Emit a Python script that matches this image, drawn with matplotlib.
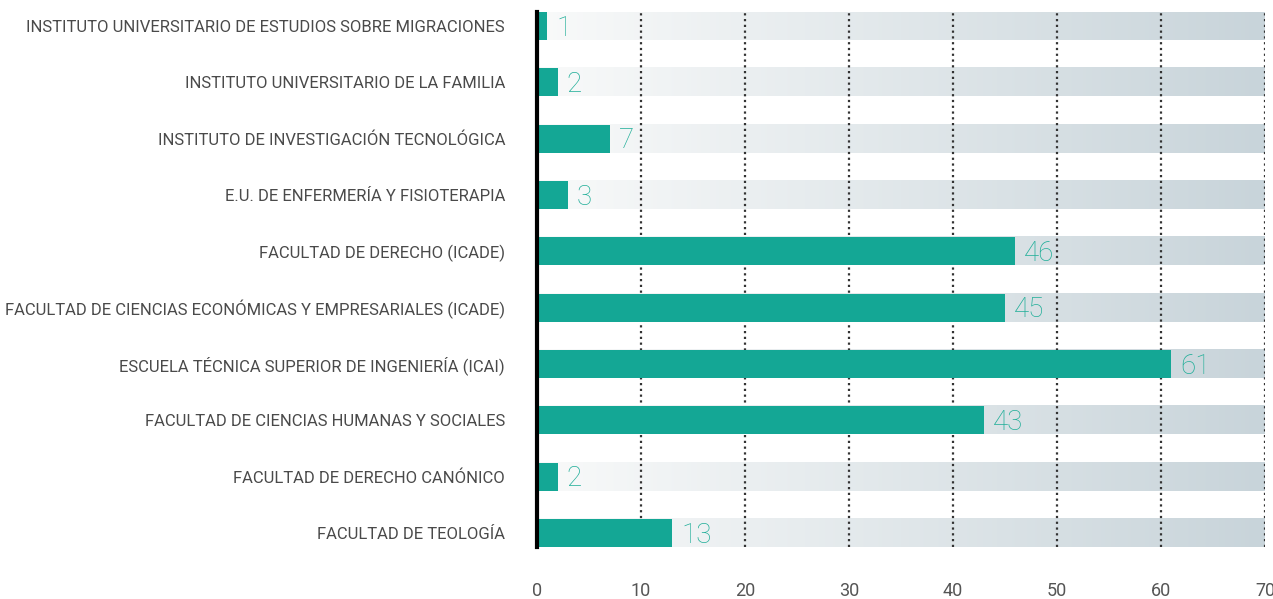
import numpy as np
import matplotlib.pyplot as plt
from matplotlib.colors import LinearSegmentedColormap

# data
categories = [
    "INSTITUTO UNIVERSITARIO DE ESTUDIOS SOBRE MIGRACIONES",
    "INSTITUTO UNIVERSITARIO DE LA FAMILIA",
    "INSTITUTO DE INVESTIGACIÓN TECNOLÓGICA",
    "E.U. DE ENFERMERÍA Y FISIOTERAPIA",
    "FACULTAD DE DERECHO (ICADE)",
    "FACULTAD DE CIENCIAS ECONÓMICAS Y EMPRESARIALES (ICADE)",
    "ESCUELA TÉCNICA SUPERIOR DE INGENIERÍA (ICAI)",
    "FACULTAD DE CIENCIAS HUMANAS Y SOCIALES",
    "FACULTAD DE DERECHO CANÓNICO",
    "FACULTAD DE TEOLOGÍA",
]
values = [1, 2, 7, 3, 46, 45, 61, 43, 2, 13]
x_max = 70
x_ticks = [0, 10, 20, 30, 40, 50, 60, 70]

plt.rcParams['font.family'] = ['Roboto', 'DejaVu Sans']

fig = plt.figure(figsize=(12.73, 5.99), dpi=100)
ax = fig.add_axes([537 / 1273, 52 / 599, 728 / 1273, 535 / 599])

bar_h = 0.5
grad = np.linspace(0, 1, 256).reshape(1, -1)
cmap = LinearSegmentedColormap.from_list("bg", ["#f9fafa", "#c8d4da"])

# background gradient bands
for i in range(len(categories)):
    ax.imshow(grad, cmap=cmap, aspect='auto', zorder=0,
              extent=(0, x_max, i + bar_h / 2, i - bar_h / 2))

# dotted grid
for t in x_ticks[1:]:
    ax.axvline(t, color="#333333", lw=1.6, ls=(0, (1, 1.6)), zorder=1)

y = np.arange(len(categories))
ax.barh(y, values, height=bar_h, color="#14a795", zorder=2)

for yi, v in zip(y, values):
    ax.text(v + 0.85, yi + 0.04, str(v), va='center', ha='left', fontsize=20,
            color="#1fae98", fontweight='light', zorder=3)

ax.set_xlim(0, x_max)
ax.set_ylim(len(categories) - 1 + bar_h / 2, -bar_h / 2)
ax.set_yticks(y)
ax.set_yticklabels(categories, fontsize=12, color="#4a4a4a")
ax.set_xticks(x_ticks)
ax.set_xticklabels([str(t) for t in x_ticks], fontsize=13, color="#555555")
ax.tick_params(axis='y', length=0, pad=23)
ax.tick_params(axis='x', length=0, pad=25)

for s in ['top', 'right', 'bottom']:
    ax.spines[s].set_visible(False)
ax.spines['left'].set_color('black')
ax.spines['left'].set_linewidth(3)
ax.spines['left'].set_zorder(4)

fig.savefig("out.png", dpi=100)
